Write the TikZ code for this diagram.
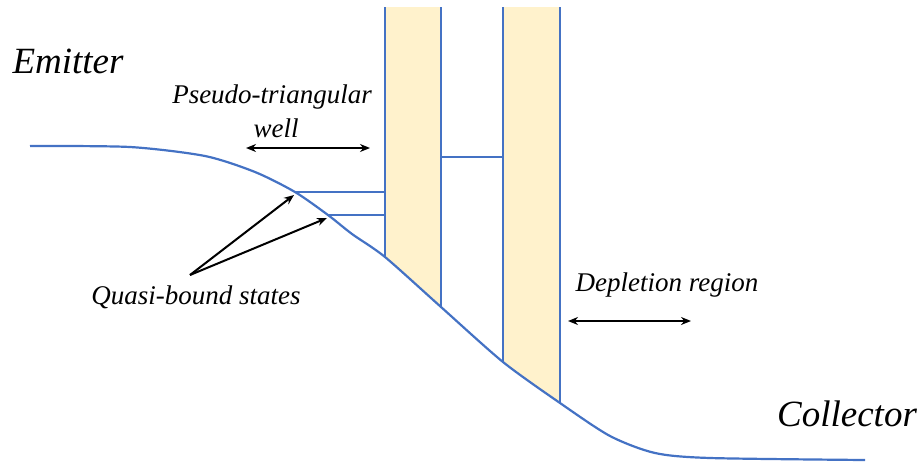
\documentclass[tikz,border=0pt]{standalone}
\usepackage{fontspec}
\newfontfamily\tnritalic{Liberation Serif Italic}
\usetikzlibrary{arrows.meta}
\definecolor{bandblue}{HTML}{4472C4}
\definecolor{barrierfill}{HTML}{FFF2CC}
\tikzset{
  band/.style={draw=bandblue, line width=2.2pt},
  barrier/.style={fill=barrierfill, draw=none},
  lbl/.style={font=\tnritalic\fontsize{27}{30}\selectfont, inner sep=0pt},
  biglbl/.style={font=\tnritalic\fontsize{37}{40}\selectfont, inner sep=0pt},
  ptr/.style={line width=2pt, -{Stealth[length=10pt,width=8pt]}},
  dbl/.style={line width=2pt, {Stealth[length=10pt,width=8pt]}-{Stealth[length=10pt,width=8pt]}}
}
\begin{document}
\begin{tikzpicture}[x=1pt,y=-1pt]
\useasboundingbox (0,0) rectangle (920,461);
% barriers
\fill[barrier] (385,7) -- (441,7) -- (441,307) -- (385,257) -- cycle;
\fill[barrier] (503,7) -- (560,7) -- (560,403) -- (503,362) -- cycle;
\draw[band] (385,7) -- (385,257);
\draw[band] (441,7) -- (441,307);
\draw[band] (503,7) -- (503,362);
\draw[band] (560,7) -- (560,403);
% band edge
\draw[band] plot[smooth, tension=0.45] coordinates {(30,146) (130,147) (205,156) (255,172) (295,192) (328,215) (352,234) (385,257) (441,307) (503,362) (560,403) (610,436) (655,453) (710,458) (865,460)};
% named points
\coordinate (s1) at (295,192);
\coordinate (s2) at (328,215);
\coordinate (w1) at (385,192);
\coordinate (w2) at (385,215);
\coordinate (m1) at (441,157);
\coordinate (m2) at (503,157);
% levels
\draw[band] (s1) -- (w1);
\draw[band] (s2) -- (w2);
\draw[band] (m1) -- (m2);
% labels
\node[biglbl] (emitter) at (68,61) {Emitter};
\node[biglbl] (collector) at (847,414) {Collector};
\node[lbl] (pseudo) at (272,97) {Pseudo-triangular};
\node[lbl] (well) at (276,128) {well};
\node[lbl] (quasi) at (196,297) {Quasi-bound states};
\node[lbl] (depl) at (667,285) {Depletion region};
% arrows
\coordinate (qa) at (190,275);
\coordinate (q1) at (294,195);
\coordinate (q2) at (327,218);
\draw[ptr] (qa) -- (q1);
\draw[ptr] (qa) -- (q2);
\coordinate (wl) at (246,148);
\coordinate (wr) at (370,148);
\draw[dbl] (wl) -- (wr);
\coordinate (dl) at (568,321);
\coordinate (dr) at (691,321);
\draw[dbl] (dl) -- (dr);
\end{tikzpicture}
\end{document}
